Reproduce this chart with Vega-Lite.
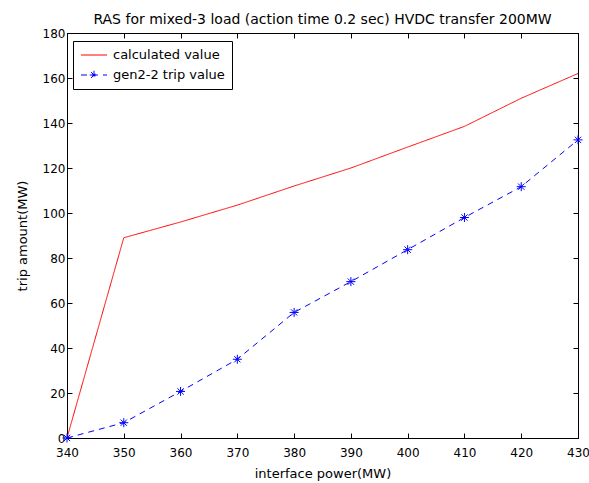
{
  "$schema": "https://vega.github.io/schema/vega-lite/v6.json",
  "autosize": "none",
  "width": 511,
  "height": 405,
  "padding": {"left": 67, "top": 33, "right": 11, "bottom": 45},
  "background": "white",
  "title": {"text": "RAS for mixed-3 load (action time 0.2 sec) HVDC transfer 200MW", "font": "DejaVu Sans", "fontSize": 14, "fontWeight": "normal", "color": "black", "offset": 0},
  "config": {
    "view": {"stroke": "black", "strokeWidth": 1},
    "font": "DejaVu Sans",
    "axis": {"grid": false, "domainColor": "black", "tickColor": "black", "labelColor": "black", "titleColor": "black", "labelFont": "DejaVu Sans", "titleFont": "DejaVu Sans", "labelFontSize": 12, "titleFontSize": 13, "titleFontWeight": "normal", "tickSize": -5, "labelPadding": 14, "labelFlush": false}
  },
  "data": {"values": [
    {"x": 340, "v": 0, "s": "calculated value"},
    {"x": 350, "v": 89, "s": "calculated value"},
    {"x": 360, "v": 96, "s": "calculated value"},
    {"x": 370, "v": 103.5, "s": "calculated value"},
    {"x": 380, "v": 112, "s": "calculated value"},
    {"x": 390, "v": 120, "s": "calculated value"},
    {"x": 400, "v": 129.3, "s": "calculated value"},
    {"x": 410, "v": 138.5, "s": "calculated value"},
    {"x": 420, "v": 151, "s": "calculated value"},
    {"x": 430, "v": 162, "s": "calculated value"},
    {"x": 340, "v": 0, "s": "gen2-2 trip value"},
    {"x": 350, "v": 6.8, "s": "gen2-2 trip value"},
    {"x": 360, "v": 20.7, "s": "gen2-2 trip value"},
    {"x": 370, "v": 35, "s": "gen2-2 trip value"},
    {"x": 380, "v": 55.8, "s": "gen2-2 trip value"},
    {"x": 390, "v": 69.5, "s": "gen2-2 trip value"},
    {"x": 400, "v": 83.7, "s": "gen2-2 trip value"},
    {"x": 410, "v": 98, "s": "gen2-2 trip value"},
    {"x": 420, "v": 111.7, "s": "gen2-2 trip value"},
    {"x": 430, "v": 132.5, "s": "gen2-2 trip value"}
  ]},
  "layer": [
    {
      "mark": {"type": "line", "strokeWidth": 1, "clip": false},
      "encoding": {
        "x": {"field": "x", "type": "quantitative", "scale": {"domain": [340, 430], "nice": false}, "axis": {"title": "interface power(MW)", "values": [340,350,360,370,380,390,400,410,420,430], "titleY": 29}},
        "y": {"field": "v", "type": "quantitative", "scale": {"domain": [0, 180], "nice": false}, "axis": {"title": "trip amount(MW)", "values": [0,20,40,60,80,100,120,140,160,180], "labelPadding": 7, "titleX": -38}},
        "color": {"field": "s", "type": "nominal", "scale": {"domain": ["calculated value", "gen2-2 trip value"], "range": ["#ff0000", "#0000ff"]},
          "legend": {"title": null, "orient": "none", "legendX": 6, "legendY": 8, "fillColor": "white", "strokeColor": "black", "padding": 7, "labelFont": "DejaVu Sans", "labelFontSize": 13, "labelColor": "black", "symbolSize": 169, "symbolStrokeWidth": 1, "symbolOffset": 7, "labelOffset": 12, "rowPadding": 6,
            "symbolType": "M-2,0L2,0",
            "encode": {"symbols": {"update": {"shape": [{"test": "datum.value === 'gen2-2 trip value'", "value": "M-2,0L2,0M0,-0.65L0,0.65M-0.65,0L0.65,0M-0.46,-0.46L0.46,0.46M-0.46,0.46L0.46,-0.46"}, {"value": "M-2,0L2,0"}]}}}}},
        "strokeDash": {"field": "s", "type": "nominal", "scale": {"domain": ["calculated value", "gen2-2 trip value"], "range": [[1,0],[6,5]]}, "legend": null}
      }
    },
    {
      "transform": [{"filter": "datum.s === 'gen2-2 trip value'"}],
      "mark": {"type": "point", "shape": "M-1,0L1,0M0,-1L0,1M-0.7,-0.7L0.7,0.7M-0.7,0.7L0.7,-0.7", "filled": false, "color": "#0000ff", "size": 81, "strokeWidth": 1, "opacity": 1, "clip": false},
      "encoding": {
        "x": {"field": "x", "type": "quantitative", "axis": {"orient": "top", "labels": false, "title": null, "values": [340,350,360,370,380,390,400,410,420,430]}},
        "y": {"field": "v", "type": "quantitative", "axis": {"orient": "right", "labels": false, "title": null, "values": [0,20,40,60,80,100,120,140,160,180]}}
      }
    }
  ],
  "resolve": {"axis": {"x": "independent", "y": "independent"}}
}
